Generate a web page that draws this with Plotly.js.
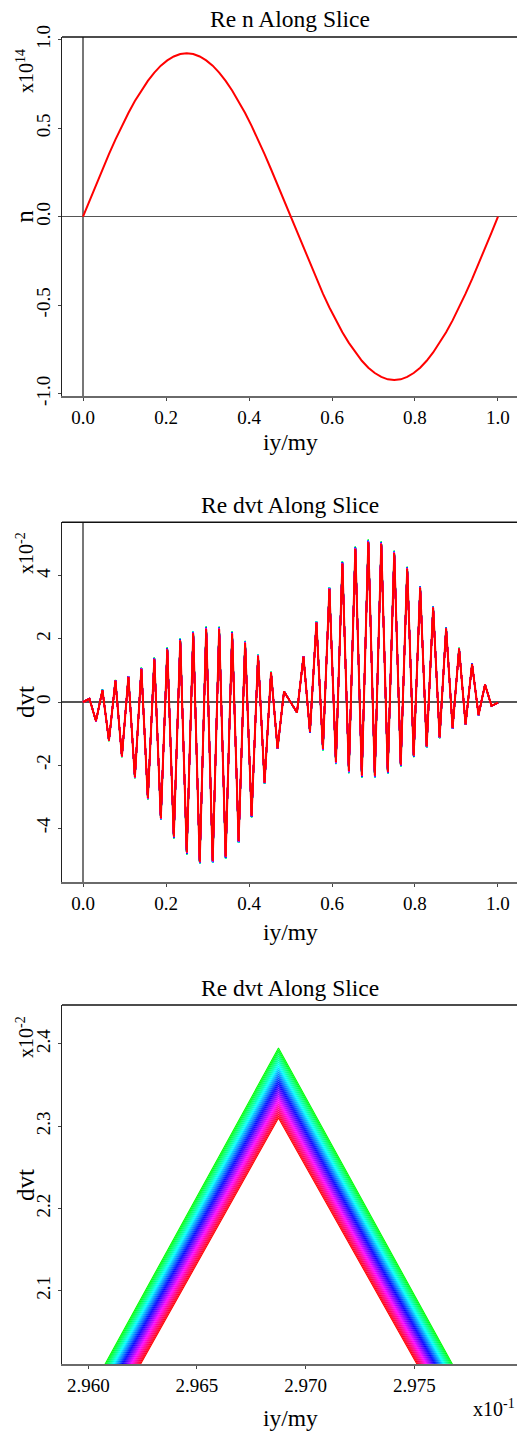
<!DOCTYPE html>
<html>
<head>
<meta charset="utf-8">
<script src="https://cdn.plot.ly/plotly-3.0.1.min.js"></script>
<style>
  html, body { margin: 0; padding: 0; background: #ffffff; overflow: hidden; }
  #chart { width: 517px; height: 1435px; }
</style>
</head>
<body>
<div id="chart"></div>
<script>
// ---------------- DATA ----------------
// grid positions iy/my (65 points, my = 64)
const gridIndex = [0,1,2,3,4,5,6,7,8,9,10,11,12,13,14,15,16,17,18,19,20,21,22,23,24,25,26,27,28,29,30,31,32,
                   33,34,35,36,37,38,39,40,41,42,43,44,45,46,47,48,49,50,51,52,53,54,55,56,57,58,59,60,61,62,63,64];
const gridMy = 64;

// Re n along slice, units of 1e14
const nVals = [0, 0.090, 0.180, 0.268, 0.353, 0.435, 0.513, 0.586, 0.653, 0.713, 0.767, 0.814, 0.853, 0.883, 0.905, 0.919, 0.923,
               0.919, 0.905, 0.883, 0.853, 0.814, 0.767, 0.713, 0.653, 0.586, 0.513, 0.435, 0.353, 0.268, 0.180, 0.090, 0,
               -0.090, -0.180, -0.268, -0.353, -0.435, -0.513, -0.586, -0.653, -0.713, -0.767, -0.814, -0.853, -0.883, -0.905, -0.919, -0.923,
               -0.919, -0.905, -0.883, -0.853, -0.814, -0.767, -0.713, -0.653, -0.586, -0.513, -0.435, -0.353, -0.268, -0.180, -0.090, 0];

// Re dvt along slice, units of 1e-2: outermost (first, green) curve
const dvtFirst = [0, 0.10, -0.61, 0.39, -1.24, 0.70, -1.75, 0.82, -2.42, 1.09, -3.09, 1.41, -3.74, 1.73, -4.33, 2.02, -4.84,
                  2.25, -5.13, 2.395, -5.11, 2.39, -4.97, 2.24, -4.47, 1.94, -3.66, 1.51, -2.59, 0.96, -1.49, 0.34, 0.0,
                  -0.34, 1.46, -0.98, 2.56, -1.54, 3.64, -1.97, 4.46, -2.26, 4.93, -2.40, 5.15, -2.41, 5.09, -2.28, 4.80,
                  -2.05, 4.29, -1.75, 3.68, -1.45, 3.04, -1.15, 2.37, -0.85, 1.72, -0.72, 1.22, -0.42, 0.56, -0.13, -0.02];
// innermost (last, red) curve
const dvtLast  = [0, 0.10, -0.60, 0.37, -1.22, 0.67, -1.72, 0.79, -2.38, 1.04, -3.04, 1.35, -3.68, 1.66, -4.26, 1.94, -4.76,
                  2.17, -5.06, 2.31, -5.03, 2.31, -4.89, 2.16, -4.40, 1.87, -3.60, 1.46, -2.55, 0.93, -1.46, 0.33, 0.0,
                  -0.33, 1.43, -0.94, 2.51, -1.48, 3.58, -1.90, 4.38, -2.18, 4.85, -2.32, 5.06, -2.33, 5.01, -2.20, 4.72,
                  -1.98, 4.22, -1.69, 3.62, -1.40, 2.99, -1.11, 2.33, -0.82, 1.69, -0.70, 1.20, -0.41, 0.55, -0.12, -0.02];

// position of each drawn curve inside the band (0 = first/green, 1 = last/red)
const lineMix = [0.000, 0.029, 0.057, 0.086, 0.114, 0.143, 0.171, 0.200, 0.229, 0.257, 0.286, 0.314,
                 0.343, 0.371, 0.400, 0.429, 0.457, 0.486, 0.514, 0.543, 0.571, 0.600, 0.629, 0.657,
                 0.686, 0.714, 0.743, 0.771, 0.800, 0.829, 0.857, 0.886, 0.914, 0.943, 0.971, 1.000];

// tick labels
const tickVals1 = [-1, -0.5, 0, 0.5, 1];
const tickText1 = ["-1.0", "-0.5", "0.0", "0.5", "1.0"];
const tickValsX = [0, 0.2, 0.4, 0.6, 0.8, 1.0];
const tickTextX = ["0.0", "0.2", "0.4", "0.6", "0.8", "1.0"];
const tickVals2 = [-4, -2, 0, 2, 4];
const tickText2 = ["-4", "-2", "0", "2", "4"];
const tickVals3y = [2.1, 2.2, 2.3, 2.4];
const tickText3y = ["2.1", "2.2", "2.3", "2.4"];
const tickVals3x = [2.960, 2.965, 2.970, 2.975];
const tickText3x = ["2.960", "2.965", "2.970", "2.975"];

// ---------------- BUILD ----------------
const W = 517, H = 1435;
const FONT = "Liberation Serif, Times New Roman, serif";
const xs = gridIndex.map(i => i / gridMy);
const xsE1 = xs.map(v => v * 10);   // x in units of 1e-1 for the zoomed panel

const traces = [];
traces.push({ x: xs, y: nVals, xaxis: 'x', yaxis: 'y', mode: 'lines',
  line: { color: '#ff0000', width: 2 }, hoverinfo: 'skip' });

const nL = lineMix.length;
lineMix.forEach((m, k) => {
  const hue = 120 + 240 * m;
  const col = 'hsl(' + (hue % 360).toFixed(1) + ',100%,50%)';
  const yv = dvtFirst.map((g, i) => g + m * (dvtLast[i] - g));
  traces.push({ x: xs, y: yv, xaxis: 'x2', yaxis: 'y2', mode: 'lines',
    line: { color: col, width: k === nL - 1 ? 2 : 1.4, simplify: false }, hoverinfo: 'skip' });
  traces.push({ x: xsE1, y: yv, xaxis: 'x3', yaxis: 'y3', mode: 'lines',
    line: { color: col, width: 1.1, simplify: false }, hoverinfo: 'skip' });
});

const px = p => p / W;
const py = p => 1 - p / H;
const xDom = [px(62), 1];

const tickFont = { family: FONT, size: 19, color: '#000' };
function xAxis(range, vals, text, anchor) {
  return { domain: xDom, range: range, anchor: anchor, tickmode: 'array', tickvals: vals, ticktext: text,
    ticks: 'outside', ticklen: 3, tickwidth: 1, tickcolor: '#444', showgrid: false,
    showline: true, linecolor: '#6a6a6a', linewidth: 2, tickfont: tickFont, fixedrange: true };
}
function yAxis(dom, range, vals, text, anchor) {
  return { domain: dom, range: range, anchor: anchor, tickmode: 'array', tickvals: vals, ticktext: text,
    ticks: 'outside', ticklen: 3, tickwidth: 1, tickcolor: '#444', showgrid: false, tickangle: -90,
    showline: true, linecolor: '#222', linewidth: 1.5, tickfont: tickFont, fixedrange: true };
}

const layout = {
  width: W, height: H, margin: { l: 0, r: 0, t: 0, b: 0 },
  paper_bgcolor: '#fff', plot_bgcolor: '#fff', showlegend: false,
  xaxis: Object.assign(xAxis([-0.0506, 1.0458], tickValsX, tickTextX, 'y'),
    { zeroline: true, zerolinecolor: '#777', zerolinewidth: 2 }),
  yaxis: Object.assign(yAxis([py(396), py(37)], [-1.013, 1.015], tickVals1, tickText1, 'x'),
    { zeroline: true, zerolinecolor: '#555', zerolinewidth: 1.5 }),
  xaxis2: Object.assign(xAxis([-0.0506, 1.0458], tickValsX, tickTextX, 'y2'),
    { zeroline: true, zerolinecolor: '#777', zerolinewidth: 2 }),
  yaxis2: Object.assign(yAxis([py(881.7), py(522.3)], [-5.70, 5.70], tickVals2, tickText2, 'x2'),
    { zeroline: true, zerolinecolor: '#555', zerolinewidth: 1.5 }),
  xaxis3: Object.assign(xAxis([2.95879, 2.979725], tickVals3x, tickText3x, 'y3'), { zeroline: false }),
  yaxis3: Object.assign(yAxis([py(1364.3), py(1005)], [2.0105, 2.4474], tickVals3y, tickText3y, 'x3'), { zeroline: false }),
  shapes: [37, 522.3, 1005].map(t => ({ type: 'line', xref: 'paper', yref: 'paper',
    x0: px(62), x1: 1, y0: py(t), y1: py(t), line: { color: '#111', width: 1.5 } })),
  annotations: []
};

function ann(text, x, y, size, angle, extra) {
  layout.annotations.push(Object.assign({ text: text, xref: 'paper', yref: 'paper', x: px(x), y: py(y),
    xanchor: 'center', yanchor: 'middle', showarrow: false, textangle: angle || 0,
    font: { family: FONT, size: size, color: '#000' } }, extra || {}));
}
// titles
ann('Re n Along Slice', 290, 19, 23.5);
ann('Re dvt Along Slice', 290, 505, 23.5);
ann('Re dvt Along Slice', 290, 988, 23.5);
// x titles
ann('iy/my', 290, 442, 23.5);
ann('iy/my', 290, 932, 23.5);
ann('iy/my', 290, 1418, 23.5);
// y titles
ann('n', 25, 216.7, 25, -90);
ann('dvt', 25, 702, 25, -90);
ann('dvt', 25, 1185, 25, -90);
// exponents
ann('x10<sup>14</sup>', 25, 71, 20, -90);
ann('x10<sup>-2</sup>', 25, 553, 20, -90);
ann('x10<sup>-2</sup>', 25, 1037, 20, -90);
ann('x10<sup>-1</sup>', 494, 1408, 20, 0);

Plotly.newPlot('chart', traces, layout, { staticPlot: true, displayModeBar: false });
</script>
</body>
</html>
